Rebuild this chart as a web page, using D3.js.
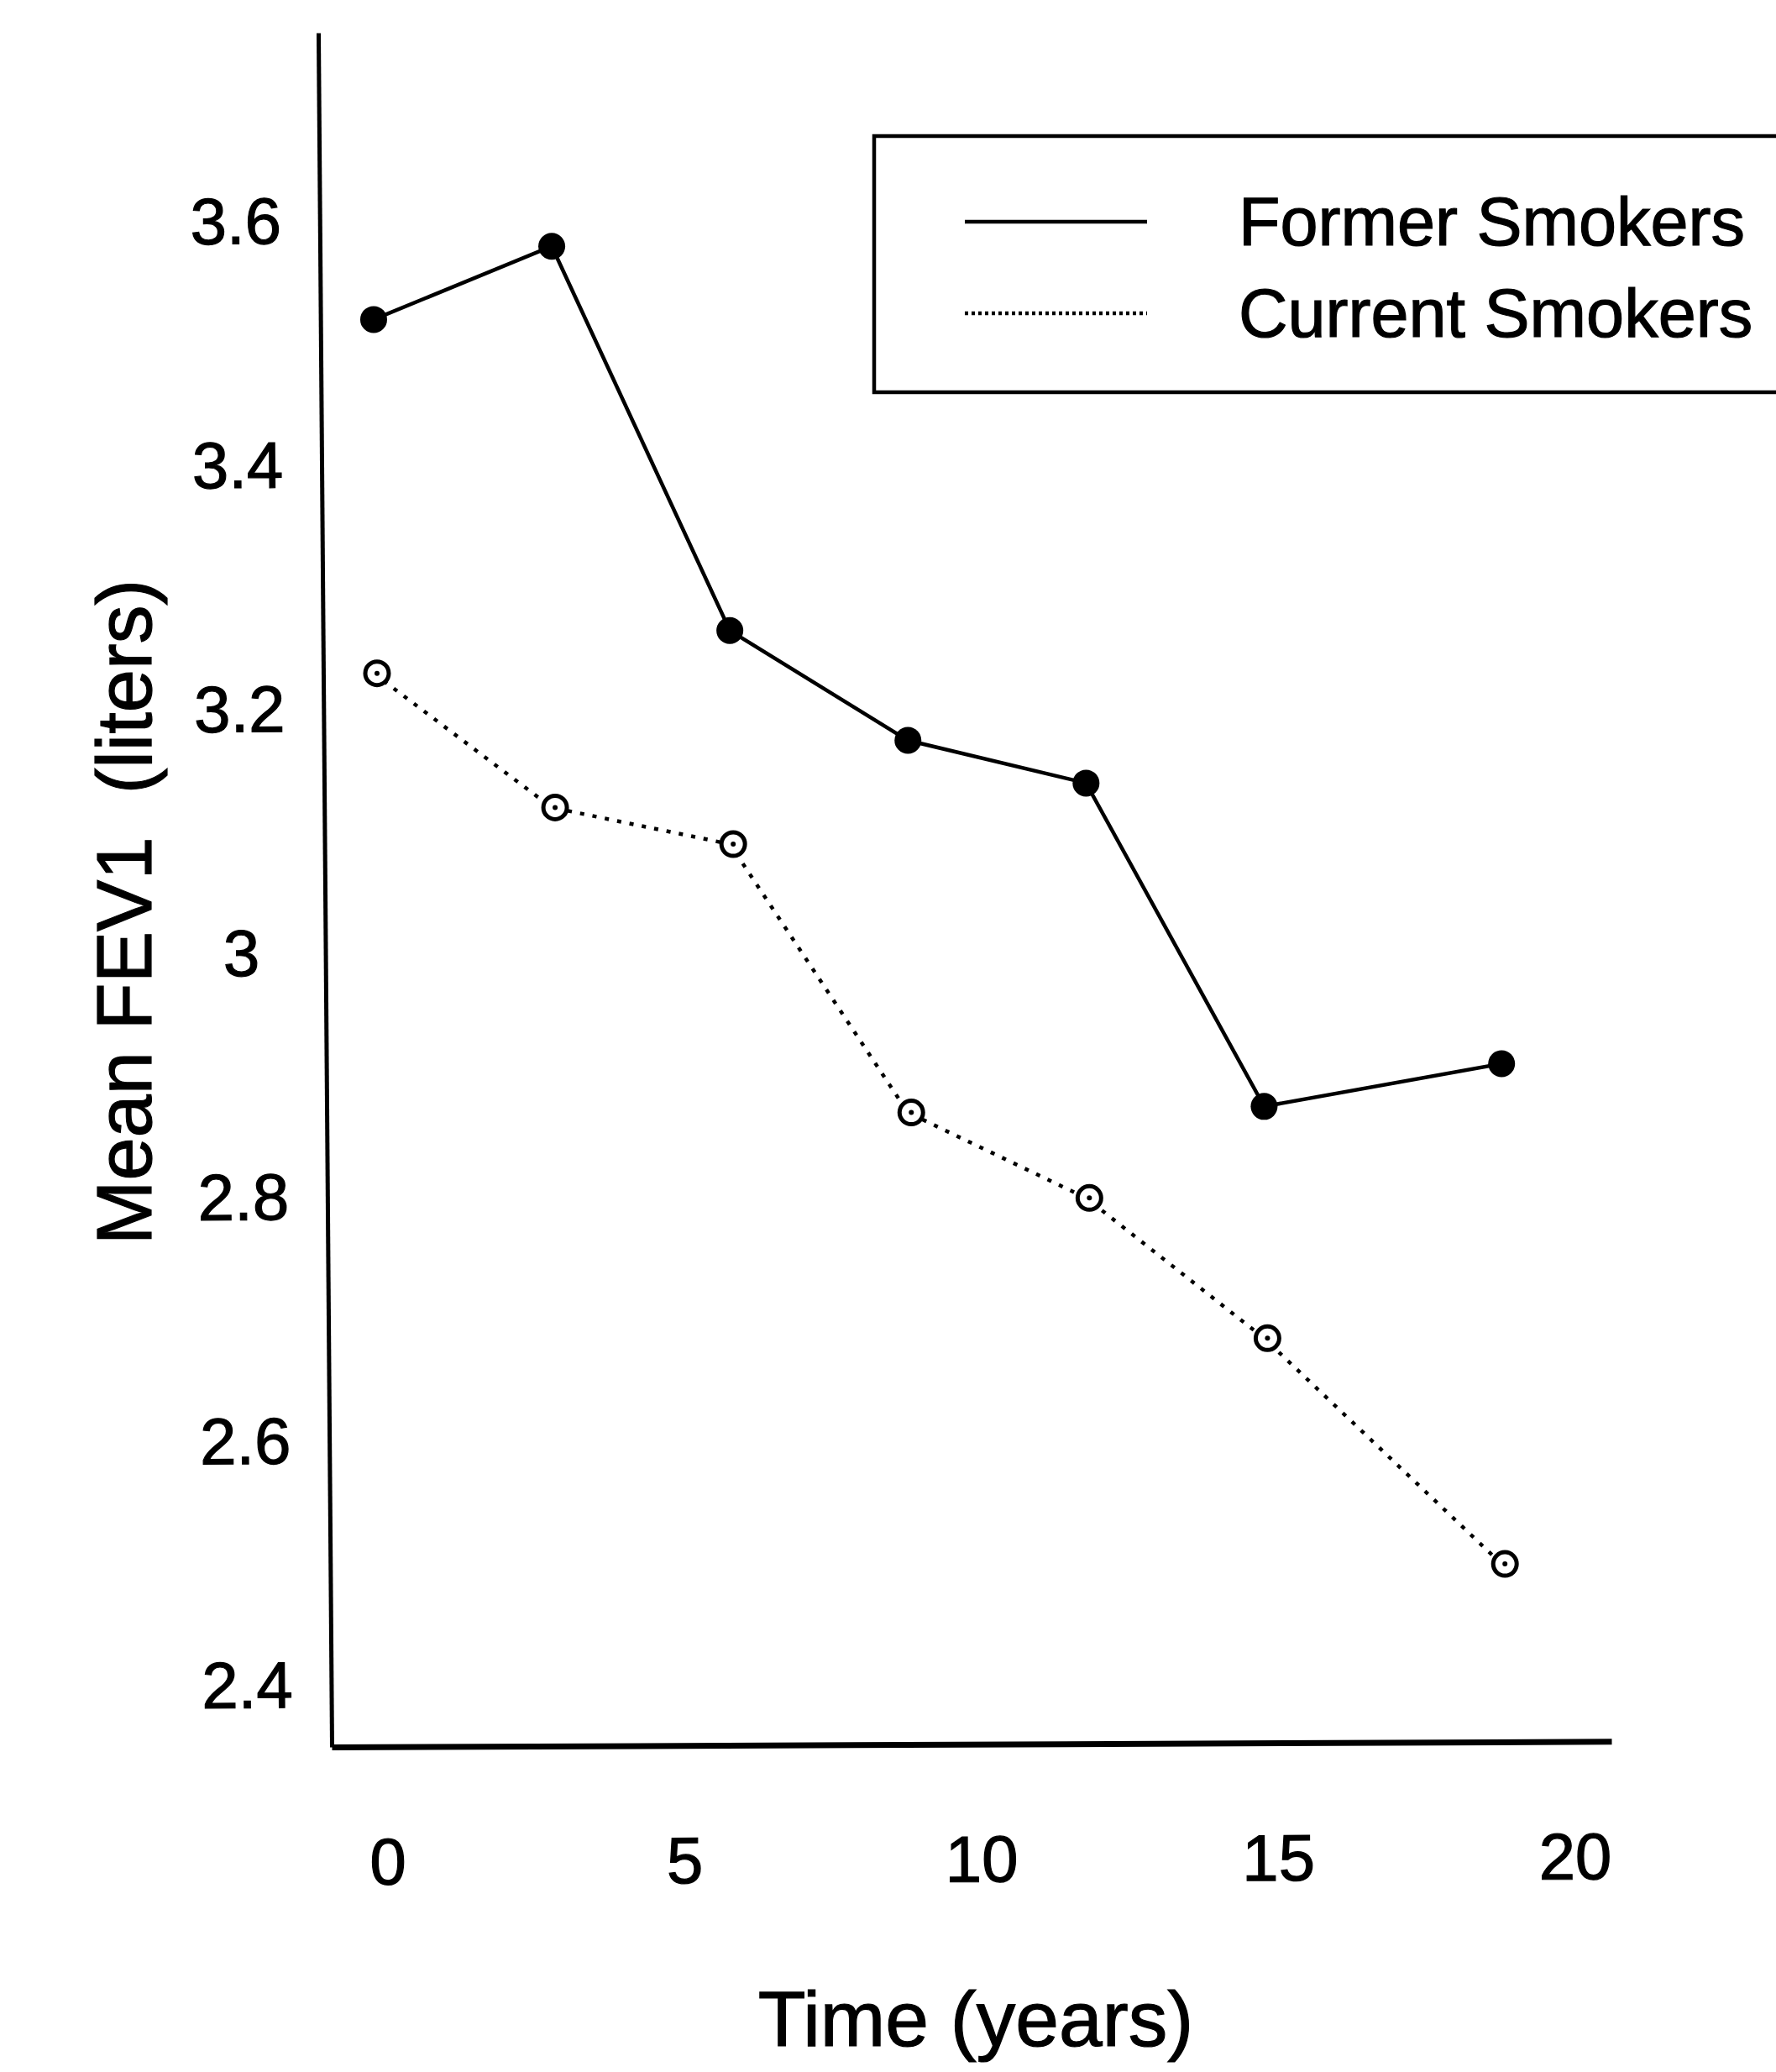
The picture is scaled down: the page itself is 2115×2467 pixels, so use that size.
<!DOCTYPE html>
<html lang="en">
<head>
<meta charset="UTF-8">
<title>Mean FEV1</title>
<script src="https://cdn.jsdelivr.net/npm/d3@7"></script>
<style>
  body { margin: 0; background: #fff; }
  text { font-family: "Liberation Sans", Arial, sans-serif; fill: #000; stroke: #000; stroke-width: 1.2px; }
</style>
</head>
<body>
<div id="chart"></div>
<script>
// data
var years = [0, 3, 6, 9, 12, 15, 19];
var formerSmokers = [3.52, 3.58, 3.265, 3.175, 3.14, 2.875, 2.91];
var currentSmokers = [3.23, 3.12, 3.09, 2.87, 2.80, 2.685, 2.50];
var xTicks = [0, 5, 10, 15, 20];
var yTicks = [2.4, 2.6, 2.8, 3, 3.2, 3.4, 3.6];
var seriesNames = ["Former Smokers", "Current Smokers"];

var width = 2115, height = 2467;

var svg = d3.select("#chart").append("svg")
    .attr("width", width)
    .attr("height", height);

var x = d3.scaleLinear().domain([-0.707, 20.85]).range([395, 1919]);
var y = d3.scaleLinear().domain([2.35, 3.755]).range([2080, 39]);

// y axis (slightly skewed like the scan)
var yAxis = svg.append("g")
    .attr("transform", "translate(" + x.range()[0] + ",0) rotate(-0.45,0,2080)")
    .call(d3.axisLeft(y).tickValues(yTicks).tickSize(0).tickFormat(d3.format(".1~f")));
yAxis.select(".domain").attr("stroke", "#000").attr("stroke-width", 5).attr("fill", "none");
yAxis.selectAll("text")
    .attr("text-anchor", "middle")
    .attr("x", -100)
    .attr("fill", "#000")
    .attr("font-size", 78);

// x axis
var xAxis = svg.append("g")
    .attr("transform", "translate(0," + y.range()[0] + ") rotate(-0.25," + x.range()[0] + ",0)")
    .call(d3.axisBottom(x).tickValues(xTicks).tickSize(0));
xAxis.select(".domain").attr("stroke", "#000").attr("stroke-width", 7).attr("fill", "none");
xAxis.selectAll("text")
    .attr("dy", null)
    .attr("y", 164)
    .attr("dx", 16)
    .attr("fill", "#000")
    .attr("font-size", 78);

// axis titles
svg.append("text")
    .attr("x", 1162)
    .attr("y", 2436)
    .attr("text-anchor", "middle")
    .attr("font-size", 93)
    .text("Time (years)");

svg.append("text")
    .attr("transform", "translate(180,1086) rotate(-90)")
    .attr("text-anchor", "middle")
    .attr("font-size", 92)
    .style("white-space", "pre")
    .text("Mean FEV1  (liters)");

var line = d3.line()
    .x(function (d) { return x(d[0]); })
    .y(function (d) { return y(d[1]); });

var formerPts = years.map(function (t, i) { return [t, formerSmokers[i]]; });
var currentPts = years.map(function (t, i) { return [t, currentSmokers[i]]; });

// current smokers: dotted line, open circles
svg.append("path")
    .datum(currentPts)
    .attr("d", line)
    .attr("fill", "none")
    .attr("stroke", "#000")
    .attr("stroke-width", 4.5)
    .attr("stroke-dasharray", "5,10");

svg.selectAll(".cur")
    .data(currentPts)
    .enter().append("circle")
    .attr("class", "cur")
    .attr("cx", function (d) { return x(d[0]) + 4; })
    .attr("cy", function (d) { return y(d[1]); })
    .attr("r", 14)
    .attr("fill", "#fff")
    .attr("stroke", "#000")
    .attr("stroke-width", 5);

svg.selectAll(".curdot")
    .data(currentPts)
    .enter().append("circle")
    .attr("class", "curdot")
    .attr("cx", function (d) { return x(d[0]) + 4; })
    .attr("cy", function (d) { return y(d[1]); })
    .attr("r", 3)
    .attr("fill", "#000");

// former smokers: solid line, filled circles
svg.append("path")
    .datum(formerPts)
    .attr("d", line)
    .attr("fill", "none")
    .attr("stroke", "#000")
    .attr("stroke-width", 4.5);

svg.selectAll(".former")
    .data(formerPts)
    .enter().append("circle")
    .attr("class", "former")
    .attr("cx", function (d) { return x(d[0]); })
    .attr("cy", function (d) { return y(d[1]); })
    .attr("r", 16)
    .attr("fill", "#000");

// legend
var legend = svg.append("g");
legend.append("rect")
    .attr("x", 1041)
    .attr("y", 162)
    .attr("width", 1120)
    .attr("height", 305)
    .attr("fill", "none")
    .attr("stroke", "#000")
    .attr("stroke-width", 4.5);

var legendY = [264, 373];
seriesNames.forEach(function (name, i) {
    legend.append("line")
        .attr("x1", 1149)
        .attr("x2", 1366)
        .attr("y1", legendY[i])
        .attr("y2", legendY[i])
        .attr("stroke", "#000")
        .attr("stroke-width", 4.5)
        .attr("stroke-dasharray", i === 0 ? null : "4,4");
    legend.append("text")
        .attr("x", 1475)
        .attr("y", legendY[i])
        .attr("dy", "0.35em")
        .attr("font-size", 81)
        .text(name);
});
</script>
</body>
</html>
